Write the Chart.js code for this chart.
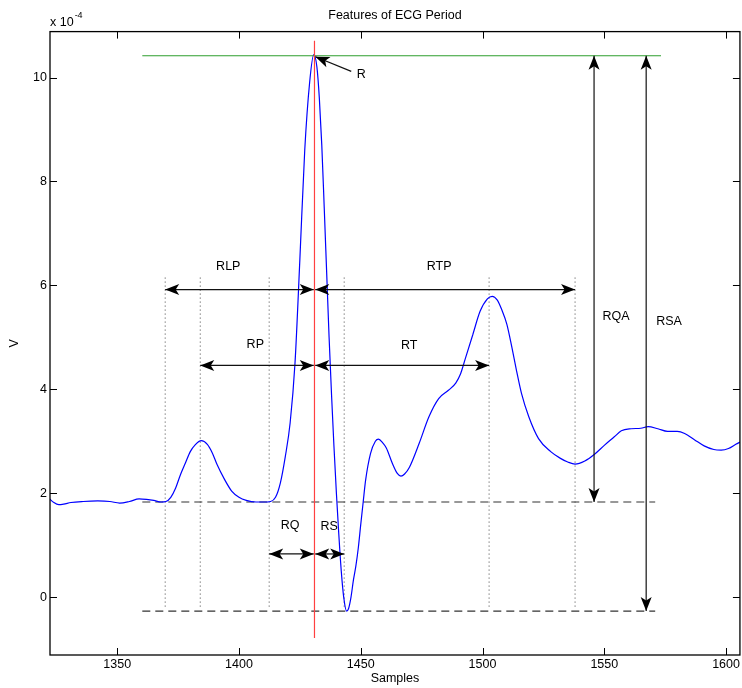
<!DOCTYPE html>
<html>
<head>
<meta charset="utf-8">
<script src="https://cdn.jsdelivr.net/npm/chart.js@4.4.1/dist/chart.umd.min.js"></script>
<style>
  html, body { margin: 0; padding: 0; background: #fff; }
  #wrap { width: 742px; height: 688px; }
</style>
</head>
<body>
<div id="wrap"><canvas id="ecg" width="742" height="688"></canvas></div>
<script>
// ECG period, samples vs volts (x 1e-4)
const sampleX = [1322, 1324, 1326, 1328, 1331, 1336, 1342, 1347, 1351, 1355, 1359, 1362, 1365, 1368, 1370,
  1372, 1374, 1376, 1378, 1380, 1382, 1384.5, 1387, 1389, 1391, 1394, 1397, 1400, 1403, 1407, 1410, 1413,
  1415, 1417, 1419, 1421, 1423, 1425, 1427, 1429, 1430.7, 1432, 1433, 1434, 1435, 1436, 1437, 1438, 1439,
  1440, 1441, 1442, 1443, 1444.2, 1445, 1446, 1447, 1448, 1449, 1450, 1451, 1452, 1454, 1456, 1457.3, 1459,
  1460.5, 1463, 1465, 1466.5, 1468, 1470, 1474, 1478, 1482, 1486, 1489, 1491, 1493, 1496, 1499, 1502, 1504,
  1506, 1508, 1510, 1512, 1514, 1516, 1519, 1523, 1528, 1532, 1535, 1538, 1542, 1546, 1550, 1554, 1557,
  1561, 1565, 1568, 1572, 1576, 1580, 1583, 1587, 1591, 1595, 1598, 1601, 1604, 1606];
const ecgV = [1.90, 1.82, 1.78, 1.79, 1.82, 1.84, 1.85, 1.84, 1.81, 1.84, 1.89, 1.88, 1.86, 1.83, 1.84,
  1.92, 2.10, 2.36, 2.58, 2.80, 2.93, 3.01, 2.94, 2.78, 2.55, 2.27, 2.04, 1.92, 1.86, 1.83, 1.83, 1.84,
  1.92, 2.20, 2.70, 3.35, 4.50, 6.50, 8.60, 9.90, 10.44, 10.20, 9.60, 8.70, 7.50, 6.25, 5.00, 3.90, 2.90,
  2.00, 1.20, 0.50, 0.00, -0.27, -0.22, 0.00, 0.33, 0.60, 0.95, 1.40, 1.83, 2.25, 2.76, 3.00, 3.04, 2.97,
  2.87, 2.57, 2.38, 2.33, 2.37, 2.50, 2.96, 3.47, 3.82, 3.98, 4.12, 4.30, 4.60, 5.05, 5.50, 5.74, 5.79,
  5.72, 5.52, 5.25, 4.82, 4.35, 3.92, 3.47, 3.05, 2.80, 2.67, 2.60, 2.56, 2.62, 2.75, 2.92, 3.08, 3.20,
  3.24, 3.25, 3.28, 3.24, 3.19, 3.19, 3.15, 3.03, 2.91, 2.84, 2.83, 2.86, 2.94, 2.99];

const xTicks = [1350, 1400, 1450, 1500, 1550, 1600];
const yTicks = [0, 2, 4, 6, 8, 10];

// reference lines
const rPeakX = 1431;
const rLineV = [10.71, -0.79];
const rLevel = 10.42;
const qLevel = 1.83;
const sLevel = -0.27;
const refLineX = [1360.3, 1573.3];
const dashLineX = [1360.3, 1570.9];

// dotted feature markers
const markerX = [1369.7, 1384.1, 1412.4, 1443.2, 1502.7, 1538];
const markerV = [6.15, -0.22];

// interval arrows
const spanNames = ['RLP', 'RTP', 'RP', 'RT', 'RQ', 'RS', 'RQA', 'RSA'];
const spanX1 = [1369.7, 1431.3, 1384.1, 1431.3, 1412.4, 1431.3, 1545.8, 1567.2];
const spanX2 = [1430.7, 1538, 1430.7, 1502.7, 1430.7, 1443.2, 1545.8, 1567.2];
const spanV1 = [5.92, 5.92, 4.46, 4.46, 0.83, 0.83, 10.42, 10.42];
const spanV2 = [5.92, 5.92, 4.46, 4.46, 0.83, 0.83, 1.83, -0.27];
const labelX = [1395.6, 1482.2, 1406.7, 1469.9, 1421, 1437, 1554.8, 1576.6];
const labelV = [6.37, 6.37, 4.87, 4.85, 1.38, 1.35, 5.40, 5.31];

// R pointer
const rTail = [1446.1, 10.12];
const rTip = [1431.4, 10.40];
const rLabel = [1450.2, 10.06];

const FONT = '"Liberation Sans", Arial, Helvetica, sans-serif';

function drawHead(ctx, tx, ty, dx, dy) {
  const len = Math.hypot(dx, dy) || 1;
  const ux = dx / len, uy = dy / len;
  const px = -uy, py = ux;
  const L = 14, W = 5.5, N = 10.5;
  ctx.beginPath();
  ctx.moveTo(tx, ty);
  ctx.lineTo(tx - ux * L + px * W, ty - uy * L + py * W);
  ctx.lineTo(tx - ux * N, ty - uy * N);
  ctx.lineTo(tx - ux * L - px * W, ty - uy * L - py * W);
  ctx.closePath();
  ctx.fill();
}

function drawArrow(ctx, ax, ay, bx, by, both) {
  ctx.beginPath();
  ctx.moveTo(ax, ay);
  ctx.lineTo(bx, by);
  ctx.stroke();
  drawHead(ctx, bx, by, bx - ax, by - ay);
  if (both) drawHead(ctx, ax, ay, ax - bx, ay - by);
}

const overlay = {
  id: 'overlay',
  afterDatasetsDraw(chart) {
    const { ctx, scales: { x, y } } = chart;
    ctx.save();
    ctx.strokeStyle = '#111';
    ctx.fillStyle = '#000';
    ctx.lineWidth = 1.2;
    ctx.font = '12.5px ' + FONT;
    ctx.textAlign = 'center';
    ctx.textBaseline = 'middle';
    spanNames.forEach((name, i) => {
      drawArrow(ctx,
        x.getPixelForValue(spanX1[i]), y.getPixelForValue(spanV1[i]),
        x.getPixelForValue(spanX2[i]), y.getPixelForValue(spanV2[i]), true);
      ctx.fillText(name, x.getPixelForValue(labelX[i]), y.getPixelForValue(labelV[i]));
    });
    drawArrow(ctx,
      x.getPixelForValue(rTail[0]), y.getPixelForValue(rTail[1]),
      x.getPixelForValue(rTip[0]), y.getPixelForValue(rTip[1]), false);
    ctx.fillText('R', x.getPixelForValue(rLabel[0]), y.getPixelForValue(rLabel[1]));
    ctx.restore();
  },
  afterDraw(chart) {
    const { ctx, chartArea: a, scales: { x, y } } = chart;
    ctx.save();
    ctx.strokeStyle = '#000';
    ctx.lineWidth = 1.3;
    ctx.strokeRect(a.left, a.top, a.right - a.left, a.bottom - a.top);
    ctx.lineWidth = 1;
    const t = 7;
    ctx.beginPath();
    xTicks.forEach(v => {
      const p = Math.round(x.getPixelForValue(v)) + 0.5;
      ctx.moveTo(p, a.bottom); ctx.lineTo(p, a.bottom - t);
      ctx.moveTo(p, a.top); ctx.lineTo(p, a.top + t);
    });
    yTicks.forEach(v => {
      const p = Math.round(y.getPixelForValue(v)) + 0.5;
      ctx.moveTo(a.left, p); ctx.lineTo(a.left + t, p);
      ctx.moveTo(a.right, p); ctx.lineTo(a.right - t, p);
    });
    ctx.stroke();
    // exponent label
    ctx.fillStyle = '#000';
    ctx.textAlign = 'left';
    ctx.textBaseline = 'alphabetic';
    ctx.font = '12.5px ' + FONT;
    ctx.fillText('x 10', a.left, a.top - 6);
    const w = ctx.measureText('x 10').width;
    ctx.font = '9px ' + FONT;
    ctx.fillText('-4', a.left + w + 1, a.top - 14);
    ctx.restore();
  }
};

const gapLines = (xs, v1, v2) => xs.flatMap(mx => [{ x: mx, y: v1 }, { x: mx, y: v2 }, { x: mx, y: null }]);

new Chart(document.getElementById('ecg'), {
  type: 'line',
  data: {
    datasets: [
      {
        data: sampleX.map((s, i) => ({ x: s, y: ecgV[i] })),
        borderColor: '#0000ff', borderWidth: 1.2, pointRadius: 0,
        cubicInterpolationMode: 'monotone', order: 3
      },
      {
        data: [{ x: refLineX[0], y: rLevel }, { x: refLineX[1], y: rLevel }],
        borderColor: '#2e9e2e', borderWidth: 1.2, pointRadius: 0, order: 2
      },
      {
        data: [{ x: dashLineX[0], y: qLevel }, { x: dashLineX[1], y: qLevel }, { x: dashLineX[1], y: null },
               { x: dashLineX[0], y: sLevel }, { x: dashLineX[1], y: sLevel }],
        borderColor: '#333', borderWidth: 1.2, borderDash: [8, 5], pointRadius: 0, spanGaps: false, order: 4
      },
      {
        data: gapLines(markerX, markerV[0], markerV[1]),
        borderColor: '#444', borderWidth: 1, borderDash: [1, 3], pointRadius: 0, spanGaps: false, order: 5
      },
      {
        data: [{ x: rPeakX, y: rLineV[0] }, { x: rPeakX, y: rLineV[1] }],
        borderColor: '#ff4040', borderWidth: 1.2, pointRadius: 0, order: 1
      }
    ]
  },
  options: {
    responsive: false,
    animation: false,
    devicePixelRatio: 1,
    layout: { padding: { left: 0, right: 2, top: 0, bottom: 0 } },
    plugins: {
      legend: { display: false },
      tooltip: { enabled: false },
      title: {
        display: true, text: 'Features of ECG Period', fullSize: false, color: '#000',
        font: { family: FONT, size: 12.5, weight: 'normal' },
        padding: { top: 8, bottom: 8.6 }
      }
    },
    scales: {
      x: {
        type: 'linear', min: 1322.4, max: 1605.7,
        afterBuildTicks: s => { s.ticks = xTicks.map(v => ({ value: v })); },
        afterFit: s => { s.height = 33; },
        ticks: { color: '#000', font: { family: FONT, size: 12.5 }, padding: 2, maxRotation: 0, autoSkip: false,
                 callback: v => String(v) },
        grid: { drawOnChartArea: false, drawTicks: false },
        border: { display: false },
        title: { display: true, text: 'Samples', color: '#000', font: { family: FONT, size: 12.5 }, padding: { top: 0, bottom: 2 } }
      },
      y: {
        type: 'linear', min: -1.115, max: 10.885,
        afterBuildTicks: s => { s.ticks = yTicks.map(v => ({ value: v })); },
        afterFit: s => { s.width = 50; },
        ticks: { color: '#000', font: { family: FONT, size: 12.5 }, padding: 3, callback: v => String(v) },
        grid: { drawOnChartArea: false, drawTicks: false },
        border: { display: false },
        title: { display: true, text: 'V', color: '#000', font: { family: FONT, size: 12.5 }, padding: { top: 7, bottom: 0 } }
      }
    }
  },
  plugins: [overlay]
});
</script>
</body>
</html>
